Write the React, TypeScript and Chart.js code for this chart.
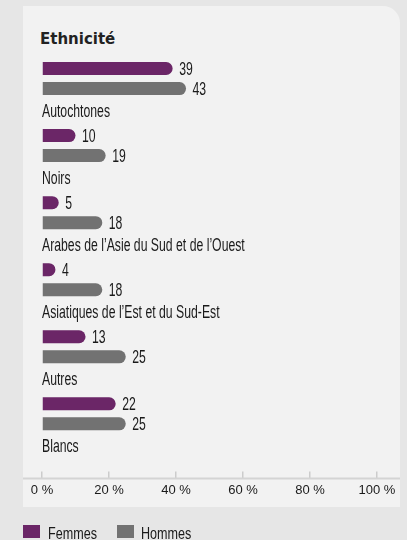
import React, { useEffect, useRef } from "react";
import { Chart, registerables } from "chart.js";

Chart.register(...registerables);

const categories = [
  "Autochtones",
  "Noirs",
  "Arabes de l\u2019Asie du Sud et de l\u2019Ouest",
  "Asiatiques de l\u2019Est et du Sud-Est",
  "Autres",
  "Blancs",
];
const femmes = [39, 10, 5, 4, 13, 22];
const hommes = [43, 19, 18, 18, 25, 25];
const xTicks = [0, 20, 40, 60, 80, 100];

const PURPLE = "#6b2667";
const GRAY = "#727272";
const TEXT = "#1a1a1a";
const SANS = "'Liberation Sans', Arial, sans-serif";
const SQUEEZE = 0.68;

function drawSqueezed(ctx: any, text: string, x: number, y: number) {
  ctx.save();
  ctx.translate(x, y);
  ctx.scale(SQUEEZE, 1);
  ctx.fillText(text, 0, 0);
  ctx.restore();
}

const textLabels = {
  id: "textLabels",
  afterDatasetsDraw(chart: any) {
    const ctx = chart.ctx;
    const xs = chart.scales.x;
    const ys = chart.scales.y;
    ctx.save();
    ctx.font = `18px ${SANS}`;
    ctx.fillStyle = TEXT;
    ctx.textAlign = "left";
    ctx.textBaseline = "alphabetic";
    // category names under each pair of bars
    categories.forEach((c, i) => {
      drawSqueezed(ctx, c, xs.getPixelForValue(0), ys.getPixelForValue(i) + 38.5);
    });
    // values at the end of each bar
    chart.data.datasets.forEach((ds: any, di: number) => {
      const meta = chart.getDatasetMeta(di);
      meta.data.forEach((el: any, i: number) => {
        drawSqueezed(ctx, String(ds.data[i].x), el.x + 6.5, el.y + 6.5);
      });
    });
    ctx.restore();
  },
};

const axisLine = {
  id: "axisLine",
  afterDraw(chart: any) {
    const ctx = chart.ctx;
    const y = chart.scales.x.top;
    ctx.save();
    ctx.strokeStyle = "#d4d4d4";
    ctx.lineWidth = 2;
    ctx.beginPath();
    ctx.moveTo(23, y);
    ctx.lineTo(400, y);
    ctx.stroke();
    ctx.restore();
  },
};

export default function App() {
  const ref = useRef<HTMLCanvasElement | null>(null);

  useEffect(() => {
    if (!ref.current) return;
    const top = 45;
    const bottom = 478;
    const pitch = 67;
    const yMin = -0.5;
    const yMax = yMin + (bottom - top) / pitch;
    const barOpts = {
      borderRadius: 7,
      borderSkipped: "start",
      categoryPercentage: 0.597,
      barPercentage: 0.65,
    };
    const chart = new Chart(ref.current, {
      type: "bar",
      data: {
        datasets: [
          {
            label: "Femmes",
            data: femmes.map((v, i) => ({ x: v, y: i })),
            backgroundColor: PURPLE,
            ...barOpts,
          },
          {
            label: "Hommes",
            data: hommes.map((v, i) => ({ x: v, y: i })),
            backgroundColor: GRAY,
            ...barOpts,
          },
        ],
      } as any,
      options: {
        indexAxis: "y",
        responsive: false,
        animation: false,
        layout: { padding: { left: 42, right: 30, top: top, bottom: 31 } },
        plugins: { legend: { display: false }, tooltip: { enabled: false } },
        scales: {
          x: {
            type: "linear",
            position: "bottom",
            min: 0,
            max: 100,
            afterBuildTicks: (s: any) => {
              s.ticks = xTicks.map((v) => ({ value: v }));
            },
            ticks: {
              callback: (v: any) => `${v}\u00a0%`,
              padding: 11,
              color: TEXT,
              font: { family: SANS, size: 13 },
              maxRotation: 0,
              autoSkip: false,
            },
            grid: {
              drawOnChartArea: false,
              drawTicks: true,
              tickLength: -7,
              color: "#cccccc",
              lineWidth: 1.5,
            },
            border: { display: false },
          },
          y: {
            type: "linear",
            reverse: true,
            offset: false,
            min: yMin,
            max: yMax,
            afterBuildTicks: (s: any) => {
              s.ticks = categories.map((_, i) => ({ value: i }));
            },
            ticks: { display: false },
            grid: { display: false, drawTicks: false, offset: false },
            border: { display: false },
          },
        },
      } as any,
      plugins: [textLabels, axisLine],
    });
    return () => chart.destroy();
  }, []);

  const legendText = {
    position: "absolute" as const,
    top: 524,
    font: `17px ${SANS}`,
    lineHeight: "19px",
    color: TEXT,
    whiteSpace: "nowrap" as const,
    transform: "scaleX(0.74)",
    transformOrigin: "left center",
  };

  return (
    <div
      style={{
        position: "fixed",
        left: 0,
        top: 0,
        width: 407,
        height: 540,
        background: "#e6e6e6",
        overflow: "hidden",
      }}
    >
      <div
        style={{
          position: "absolute",
          left: 23,
          top: 6,
          width: 377,
          height: 501,
          background: "#f2f2f2",
          borderTopRightRadius: 17,
        }}
      />
      <div
        style={{
          position: "absolute",
          left: 40,
          top: 30,
          font: "700 15px 'DejaVu Sans', sans-serif",
          lineHeight: "18px",
          color: "#222222",
          whiteSpace: "nowrap",
        }}
      >
        Ethnicité
      </div>
      <canvas
        ref={ref}
        width={407}
        height={540}
        style={{ position: "absolute", left: 0, top: 0, width: 407, height: 540 }}
      />
      <div
        style={{
          position: "absolute",
          left: 23,
          top: 525,
          width: 17,
          height: 13,
          background: PURPLE,
        }}
      />
      <div style={{ ...legendText, left: 48 }}>Femmes</div>
      <div
        style={{
          position: "absolute",
          left: 117,
          top: 525,
          width: 17,
          height: 13,
          background: GRAY,
        }}
      />
      <div style={{ ...legendText, left: 141 }}>Hommes</div>
    </div>
  );
}
